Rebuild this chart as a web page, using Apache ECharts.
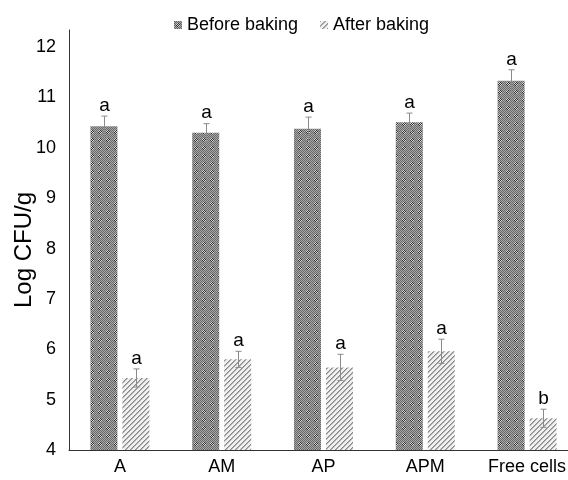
<!DOCTYPE html>
<html>
<head>
<meta charset="utf-8">
<script src="https://cdn.jsdelivr.net/npm/echarts@6/dist/echarts.min.js"></script>
<style>html,body{margin:0;padding:0;background:#fff}#chart{width:568px;height:480px}</style>
</head>
<body>
<div id="chart"></div>
<script>
// ---- data ----
var categories = ['A', 'AM', 'AP', 'APM', 'Free cells'];
var beforeBaking = [10.43, 10.30, 10.38, 10.51, 11.33];
var beforeErr = [0.20, 0.18, 0.23, 0.18, 0.22];
var afterBaking = [5.43, 5.80, 5.64, 5.96, 4.63];
var afterErr = [0.18, 0.16, 0.26, 0.24, 0.18];
var beforeLetters = ['a', 'a', 'a', 'a', 'a'];
var afterLetters = ['a', 'a', 'a', 'a', 'b'];
var yTicks = [4, 5, 6, 7, 8, 9, 10, 11, 12];
var yTitle = 'Log CFU/g';

// ---- styles ----
var FONT = 'Liberation Sans, Arial, sans-serif';
var BAR_W = 27, GAP = 5;
var OFFSET = (BAR_W + GAP) / 2;

function makeChecker() {
  var c = document.createElement('canvas');
  c.width = 8; c.height = 8;
  var ctx = c.getContext('2d');
  for (var y = 0; y < 8; y++) {
    for (var x = 0; x < 8; x++) {
      var dx = Math.abs(x - 3.5), dy = Math.abs(y - 3.5);
      var inDot = (dx + dy) < 3;
      var even = (x + y) % 2 === 0;
      var col;
      if (inDot) col = even ? '#2e2e2e' : '#d8d8d8';
      else col = even ? '#6a6a6a' : '#a6a6a6';
      ctx.fillStyle = col;
      ctx.fillRect(x, y, 1, 1);
    }
  }
  return c;
}
function makeStripes() {
  var c = document.createElement('canvas');
  c.width = 5; c.height = 5;
  var ctx = c.getContext('2d');
  ctx.fillStyle = '#f0f0f0';
  ctx.fillRect(0, 0, 5, 5);
  for (var i = 0; i < 5; i++) {
    var x = (4 - i + 5) % 5;
    ctx.fillStyle = '#8a8a8a';
    ctx.fillRect(x, i, 1, 1);
    ctx.fillStyle = '#b0b0b0';
    ctx.fillRect((x + 1) % 5, i, 1, 1);
  }
  return c;
}
var checker = makeChecker();
var stripes = makeStripes();

function errData(vals, errs, letters) {
  return vals.map(function (v, i) { return [i, v, errs[i], letters[i]]; });
}

function errSeries(name, data, sign) {
  return {
    type: 'custom',
    name: name,
    data: data,
    z: 10,
    silent: true,
    renderItem: function (params, api) {
      var idx = api.value(0);
      var v = api.value(1), e = api.value(2);
      var letter = data[params.dataIndex][3];
      var top = api.coord([idx, v + e]);
      var bot = api.coord([idx, v - e]);
      var x = Math.round(top[0] + sign * OFFSET) + 0.5;
      var capW = 3;
      return {
        type: 'group',
        children: [
          { type: 'line', shape: { x1: x, y1: top[1], x2: x, y2: bot[1] }, style: { stroke: '#8a8a8a', lineWidth: 1 } },
          { type: 'line', shape: { x1: x - capW, y1: top[1], x2: x + capW, y2: top[1] }, style: { stroke: '#8a8a8a', lineWidth: 1 } },
          { type: 'line', shape: { x1: x - capW, y1: bot[1], x2: x + capW, y2: bot[1] }, style: { stroke: '#8a8a8a', lineWidth: 1 } },
          { type: 'text', style: { text: letter, x: x, y: top[1] - 1, align: 'center', verticalAlign: 'bottom', fill: '#000', font: '19px ' + FONT } }
        ]
      };
    }
  };
}

var chart = echarts.init(document.getElementById('chart'), null, { renderer: 'canvas' });
chart.setOption({
  animation: false,
  backgroundColor: '#fff',
  textStyle: { fontFamily: FONT },
  legend: {
    top: 11,
    left: 169,
    icon: 'rect',
    itemWidth: 8,
    itemHeight: 8,
    itemGap: 22,
    textStyle: { fontSize: 18, color: '#000', fontFamily: FONT },
    data: ['Before baking', 'After baking']
  },
  graphic: [{
    type: 'text',
    x: 24, y: 250,
    rotation: Math.PI / 2,
    style: { text: yTitle, font: '24px ' + FONT, fill: '#000', align: 'center', verticalAlign: 'middle' }
  }],
  grid: { left: 69, right: -10, top: 30, bottom: 30, containLabel: false, outerBoundsMode: 'none' },
  xAxis: {
    type: 'category',
    data: categories,
    axisLine: { lineStyle: { color: '#333', width: 1 } },
    axisTick: { show: false },
    axisLabel: { color: '#000', fontSize: 18, margin: 8, fontFamily: FONT, interval: 0, hideOverlap: false }
  },
  yAxis: {
    type: 'value',
    min: 4,
    max: 12.34,
    interval: 1,
    axisLine: { show: true, lineStyle: { color: '#333', width: 1 } },
    axisTick: { show: false },
    splitLine: { show: false },
    axisLabel: {
      color: '#000', fontSize: 18, margin: 13, fontFamily: FONT,
      formatter: function (v) { return yTicks.indexOf(v) >= 0 ? String(v) : ''; }
    }
  },
  series: [
    {
      name: 'Before baking', type: 'bar', data: beforeBaking,
      barWidth: BAR_W, barGap: (GAP / BAR_W * 100) + '%',
      itemStyle: { color: { image: checker, repeat: 'repeat' } }
    },
    {
      name: 'After baking', type: 'bar', data: afterBaking,
      barWidth: BAR_W, barGap: (GAP / BAR_W * 100) + '%',
      itemStyle: { color: { image: stripes, repeat: 'repeat' } }
    },
    errSeries('errBefore', errData(beforeBaking, beforeErr, beforeLetters), -1),
    errSeries('errAfter', errData(afterBaking, afterErr, afterLetters), 1)
  ]
});
</script>
</body>
</html>
